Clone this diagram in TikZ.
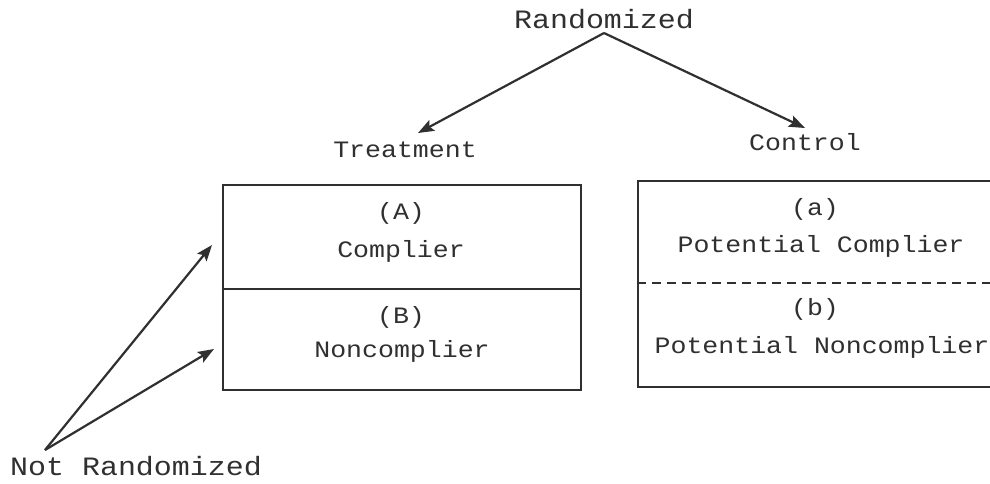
\documentclass[tikz,border=0pt]{standalone}
\usepackage{fontspec}
\usepackage{graphicx}
\usetikzlibrary{arrows.meta}
\newfontfamily\monofam{Liberation Mono}
\definecolor{ink}{HTML}{303030}
\newcommand{\txs}[1]{\scalebox{1.13}[1]{\monofam\fontsize{23.5}{28}\selectfont #1}}
\newcommand{\txb}[1]{\scalebox{1.13}[1]{\monofam\fontsize{26.5}{30}\selectfont #1}}
\tikzset{
  lbl/.style={inner sep=0pt, anchor=base, text=ink},
  arr/.style={draw=ink, line width=2.2pt, -{Stealth[length=16pt,width=12pt,inset=3pt]}},
  boxline/.style={draw=ink, line width=2.6pt},
}
\begin{document}
\begin{tikzpicture}[x=1pt,y=-1pt]
\useasboundingbox (0,0) rectangle (990,483);
\fill[white] (0,0) rectangle (990,483);
\clip (0,0) rectangle (990,483);

% labels
\node[lbl] (rand) at (604,28) {\txb{Randomized}};
\node[lbl] (treat) at (405,157) {\txs{Treatment}};
\node[lbl] (ctrl) at (805,150) {\txs{Control}};
\node[lbl] (notr) at (136,475) {\txb{Not Randomized}};

% boxes
\node[boxline, minimum width=358pt, minimum height=205pt, inner sep=0pt] (tbox) at (402,287.5) {};
\draw[boxline] (tbox.west |- 0,289) coordinate (tdl) -- (tbox.east |- 0,289) coordinate (tdr);
\node[boxline, minimum width=355pt, minimum height=206pt, inner sep=0pt] (cbox) at (815.5,284) {};
\draw[draw=ink, line width=2.4pt, dash pattern=on 9pt off 6pt] (cbox.west |- 0,283) coordinate (cdl) -- (cbox.east |- 0,283) coordinate (cdr);

% box texts
\node[lbl] (A) at (401,219) {\txs{(A)}};
\node[lbl] (Acomp) at (401,257) {\txs{Complier}};
\node[lbl] (B) at (401,323) {\txs{(B)}};
\node[lbl] (Bnon) at (402,357) {\txs{Noncomplier}};
\node[lbl] (a) at (815,215) {\txs{(a)}};
\node[lbl] (acomp) at (821,252) {\txs{Potential Complier}};
\node[lbl] (b) at (815,315) {\txs{(b)}};
\node[lbl] (bnon) at (822,353) {\txs{Potential Noncomplier}};

% connectors
\coordinate (rapex) at (604,33);
\coordinate (ttip) at (418,133);
\coordinate (ctip) at (805,128);
\coordinate (napex) at (45,450);
\coordinate (atip) at (212,245);
\coordinate (btip) at (214,349);
\draw[arr] (rapex) -- (ttip);
\draw[arr] (rapex) -- (ctip);
\draw[arr] (napex) -- (atip);
\draw[arr] (napex) -- (btip);
\end{tikzpicture}
\end{document}
